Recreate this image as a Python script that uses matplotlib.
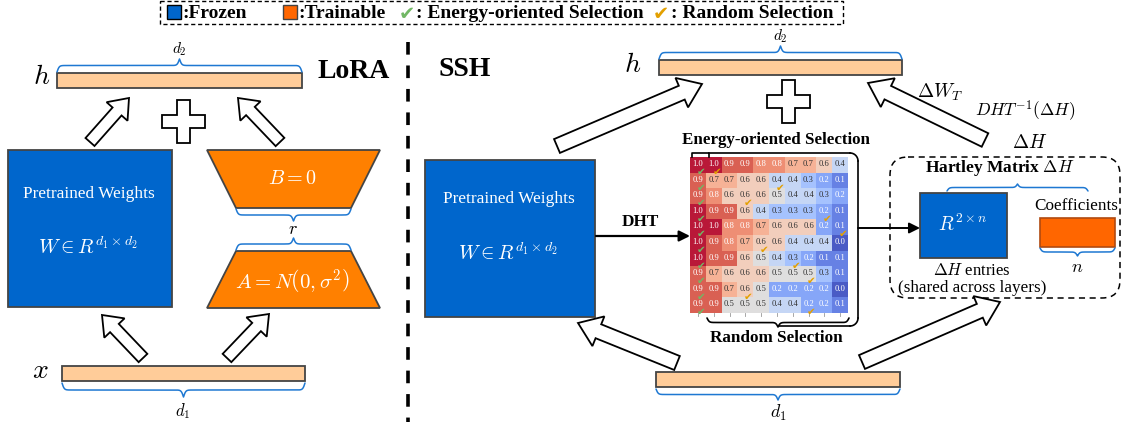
import numpy as np
import matplotlib
matplotlib.use("Agg")
from matplotlib import pyplot as plt
from matplotlib.patches import Rectangle, Polygon, FancyArrow, FancyBboxPatch

plt.rcParams["mathtext.fontset"] = "cm"
plt.rcParams["font.family"] = ["Liberation Serif", "DejaVu Sans"]

# =============================================================================
# Data

# energy values shown in the DHT matrix (10 x 10)
energy = [
    [1.0, 1.0, 0.9, 0.9, 0.8, 0.8, 0.7, 0.7, 0.6, 0.4],
    [0.9, 0.7, 0.7, 0.6, 0.6, 0.4, 0.4, 0.3, 0.2, 0.1],
    [0.9, 0.8, 0.6, 0.6, 0.6, 0.5, 0.4, 0.4, 0.3, 0.2],
    [1.0, 0.9, 0.9, 0.6, 0.4, 0.3, 0.3, 0.3, 0.2, 0.1],
    [1.0, 1.0, 0.8, 0.8, 0.7, 0.6, 0.6, 0.6, 0.2, 0.1],
    [1.0, 0.9, 0.8, 0.7, 0.6, 0.6, 0.4, 0.4, 0.4, 0.0],
    [1.0, 0.9, 0.9, 0.6, 0.5, 0.4, 0.3, 0.2, 0.1, 0.1],
    [0.9, 0.7, 0.6, 0.6, 0.6, 0.5, 0.5, 0.5, 0.3, 0.1],
    [0.9, 0.9, 0.7, 0.6, 0.5, 0.2, 0.2, 0.2, 0.2, 0.0],
    [0.9, 0.9, 0.5, 0.5, 0.5, 0.4, 0.4, 0.2, 0.2, 0.1],
]
# column picked in each row
energy_pick = [0, 0, 0, 0, 0, 0, 0, 0, 0, 0]
random_pick = [1, 5, 3, 8, 9, 4, 6, 7, 3, 7]

legend_labels = [":Frozen", ":Trainable", ": Energy-oriented Selection",
                 ": Random Selection"]

# =============================================================================
# Colours

BLUE = "#0066CC"
ORANGE = "#FF8000"
ORANGE2 = "#FF6600"
PEACH = "#FFCC99"
EDGE = "#444444"
BRACE = "#1E78D2"
GREEN_CHK = "#72B865"
ORANGE_CHK = "#E3A000"

fig = plt.figure(figsize=(11.21, 4.29), dpi=100)
ax = fig.add_axes([0, 0, 1, 1])


def hbrace(x0, x1, y, h, color=BRACE, lw=1.1, beta=0.9):
    # h > 0: tip goes down (y grows downward), h < 0: tip goes up
    half = (x1 - x0) / 2.0
    xs = np.linspace(0, half, 200)
    ys = (1 / (1 + np.exp(-beta * (xs - xs[0])))
          + 1 / (1 + np.exp(-beta * (xs - xs[-1]))))
    ys = np.concatenate((ys, ys[-2::-1])) - 0.5
    xx = np.concatenate((x0 + xs, x0 + half + xs[1:]))
    ax.plot(xx, y + ys * h, color=color, lw=lw, solid_capstyle="round")


def block_arrow(x0, y0, x1, y1, w=12, hw=28, hl=18):
    ax.add_patch(FancyArrow(x0, y0, x1 - x0, y1 - y0, width=w, head_width=hw,
                            head_length=hl, length_includes_head=True,
                            fc="white", ec="black", lw=1.3, zorder=3))


def plus(cx, cy, size=43, t=13):
    a, b = size / 2.0, t / 2.0
    pts = [(-b, -a), (b, -a), (b, -b), (a, -b), (a, b), (b, b), (b, a),
           (-b, a), (-b, b), (-a, b), (-a, -b), (-b, -b)]
    ax.add_patch(Polygon([(cx + px, cy + py) for px, py in pts], closed=True,
                         fc="white", ec="black", lw=1.3))


def bar(x0, x1, y0, y1, color=PEACH):
    ax.add_patch(Rectangle((x0, y0), x1 - x0, y1 - y0, fc=color, ec=EDGE,
                           lw=1.3))


# =============================================================================
# Legend strip

ax.add_patch(Rectangle((160, 1), 683, 23, fill=False, ec="black", lw=1.0,
                       ls=(0, (3, 2))))
ax.add_patch(Rectangle((167, 5), 14, 14, fc=BLUE, ec="black", lw=1.0))
ax.text(182, 13.5, legend_labels[0], fontsize=14, fontweight="bold",
        va="center", ha="left")
ax.add_patch(Rectangle((283, 5), 14, 14, fc=ORANGE2, ec=EDGE, lw=1.0))
ax.text(298, 13.5, legend_labels[1], fontsize=14, fontweight="bold",
        va="center", ha="left")
ax.text(407, 14, "\u2714", fontsize=14, color=GREEN_CHK, va="center",
        ha="center", family="DejaVu Sans")
ax.text(416, 13.5, legend_labels[2], fontsize=14, fontweight="bold",
        va="center", ha="left")
ax.text(661, 14, "\u2714", fontsize=14, color=ORANGE_CHK, va="center",
        ha="center", family="DejaVu Sans")
ax.text(671, 13.5, legend_labels[3], fontsize=14, fontweight="bold",
        va="center", ha="left")

# =============================================================================
# LoRA panel

ax.text(42, 77, "$h$", fontsize=20, ha="center", va="center")
bar(57, 302, 73, 88)
hbrace(57, 302, 72, -13)
ax.text(179, 49, "$d_2$", fontsize=11, ha="center", va="center")
ax.text(354, 72, "LoRA", fontsize=20, fontweight="bold", ha="center",
        va="center")

block_arrow(90, 142, 129, 98)
block_arrow(280, 142, 238, 98)
plus(183, 121)

ax.add_patch(Rectangle((8, 150), 164, 157, fc=BLUE, ec=EDGE, lw=1.3))
ax.text(89, 194, "Pretrained Weights", color="white", fontsize=12.4,
        ha="center", va="center")
ax.text(88, 248, r"$W \in R^{d_1 \times d_2}$", color="white", fontsize=14.5,
        ha="center", va="center")

ax.add_patch(Polygon([(207, 150), (380, 150), (351, 208), (236, 208)],
                     closed=True, fc=ORANGE, ec=EDGE, lw=1.3))
ax.text(293, 180, "$B = 0$", color="white", fontsize=14.5, ha="center",
        va="center")
hbrace(236, 351, 209, 12)
ax.text(293, 229, "$r$", fontsize=13, ha="center", va="center")
hbrace(236, 351, 250, -12)
ax.add_patch(Polygon([(236, 251), (351, 251), (380, 308), (207, 308)],
                     closed=True, fc=ORANGE, ec=EDGE, lw=1.3))
ax.text(292, 281, r"$A = N\left(0, \sigma^2\right)$", color="white",
        fontsize=15, ha="center", va="center")

block_arrow(143, 358, 102, 315)
block_arrow(227, 358, 269, 314)

ax.text(40, 372, "$x$", fontsize=20, ha="center", va="center")
bar(62, 305, 366, 381)
hbrace(62, 305, 383, 14)
ax.text(183, 411, "$d_1$", fontsize=12, ha="center", va="center")

# divider
ax.plot([408, 408], [42, 422], color="black", lw=2.6, ls=(0, (3.5, 3)))

# =============================================================================
# SSH panel

ax.text(465, 70, "SSH", fontsize=20, fontweight="bold", ha="center",
        va="center")
ax.text(633, 66, "$h$", fontsize=20, ha="center", va="center")
bar(659, 902, 60, 75)
hbrace(659, 902, 59, -13)
ax.text(780, 36, "$d_2$", fontsize=11, ha="center", va="center")
plus(788, 101)

block_arrow(557, 146, 702, 84, w=15, hw=32, hl=22)
block_arrow(985, 140, 868, 83, w=15, hw=32, hl=22)
ax.text(940, 92, r"$\Delta W_T$", fontsize=14, ha="center", va="center")
ax.text(1025, 111, r"$DHT^{-1}(\Delta H)$", fontsize=12.5, ha="center",
        va="center")
ax.text(1030, 143, r"$\Delta H$", fontsize=14, ha="center", va="center")

ax.add_patch(Rectangle((425, 160), 170, 157, fc=BLUE, ec=EDGE, lw=1.3))
ax.text(509, 199, "Pretrained Weights", color="white", fontsize=12.4,
        ha="center", va="center")
ax.text(508, 254, r"$W \in R^{d_1 \times d_2}$", color="white", fontsize=14.5,
        ha="center", va="center")

ax.annotate("", xy=(690, 236), xytext=(596, 236),
            arrowprops=dict(arrowstyle="-|>", color="black", lw=1.6,
                            mutation_scale=16, shrinkA=0, shrinkB=0))
ax.text(640, 222, "DHT", fontsize=12.4, fontweight="bold", ha="center",
        va="center")

# heatmap of energies
hm_x0, hm_x1, hm_y0, hm_y1 = 690, 848, 157, 313
vals = np.array(energy)
n_rows, n_cols = vals.shape
ax.imshow(vals, cmap="coolwarm", vmin=0, vmax=1, aspect="auto",
          extent=(hm_x0, hm_x1, hm_y1, hm_y0), interpolation="nearest",
          alpha=0.92, zorder=2)
cw = (hm_x1 - hm_x0) / n_cols
ch = (hm_y1 - hm_y0) / n_rows
for i in range(n_rows):
    for j in range(n_cols):
        v = vals[i, j]
        col = "white" if (v >= 0.8 or v <= 0.2) else "#333333"
        ax.text(hm_x0 + (j + 0.5) * cw, hm_y0 + (i + 0.45) * ch,
                "%.1f" % v, fontsize=6.2, color=col, ha="center",
                va="center", zorder=4)
    j = energy_pick[i]
    ax.text(hm_x0 + (j + 0.7) * cw, hm_y0 + (i + 0.95) * ch, "\u2714",
            fontsize=7.5, color=GREEN_CHK, ha="center", va="center",
            family="DejaVu Sans", zorder=5)
    j = random_pick[i]
    ax.text(hm_x0 + (j + 0.7) * cw, hm_y0 + (i + 0.95) * ch, "\u2714",
            fontsize=7.5, color=ORANGE_CHK, ha="center", va="center",
            family="DejaVu Sans", zorder=5)
for j in range(n_cols):
    xc = hm_x0 + (j + 0.5) * cw
    ax.plot([xc, xc], [hm_y1, hm_y1 + 3], color="#999999", lw=0.6)

ax.text(776, 140, "Energy-oriented Selection", fontsize=12.2,
        fontweight="bold", ha="center", va="center")
ax.text(776, 338, "Random Selection", fontsize=12.3, fontweight="bold",
        ha="center", va="center")

# selection bracket going to the Hartley box
ax.plot([692, 692, 709, 709], [157, 153, 153, 157], color="black", lw=1.2)
ax.plot([709, 850], [153, 153], color="black", lw=1.2)
t = np.linspace(0, np.pi / 2, 20)
ax.plot(850 + 8 * np.sin(t), 161 - 8 * np.cos(t), color="black", lw=1.2)
ax.plot([858, 858], [161, 318], color="black", lw=1.2)
ax.plot(850 + 8 * np.cos(t), 318 + 8 * np.sin(t), color="black", lw=1.2)
ax.plot([778, 850], [326, 326], color="black", lw=1.2)
hbrace(707, 849, 318, 9, color="black", lw=1.2)
ax.annotate("", xy=(920, 228), xytext=(858, 228),
            arrowprops=dict(arrowstyle="-|>", color="black", lw=1.4,
                            mutation_scale=16, shrinkA=0, shrinkB=0))

# Hartley matrix box
ax.add_patch(FancyBboxPatch((890, 157), 230, 141,
                            boxstyle="round,pad=0,rounding_size=18",
                            fill=False, ec="black", lw=1.1,
                            ls=(0, (4, 3))))
ax.text(1000, 168, r"Hartley Matrix $\Delta H$", fontsize=12.5,
        fontweight="bold", ha="center", va="center")
ax.add_patch(Rectangle((920, 193), 87, 65, fc=BLUE, ec=EDGE, lw=1.3))
ax.text(963, 224, r"$R^{2 \times n}$", color="white", fontsize=14,
        ha="center", va="center")
hbrace(947, 1088, 191, -7)
ax.text(1076, 206, "Coefficients", fontsize=12.3, ha="center", va="center")
ax.add_patch(Rectangle((1040, 218), 75, 29, fc=ORANGE2, ec="#B04A10",
                       lw=1.2))
hbrace(1040, 1115, 248, 8)
ax.text(1077, 268, "$n$", fontsize=13, ha="center", va="center")
ax.text(972, 271, r"$\Delta H$ entries", fontsize=12, ha="center",
        va="center")
ax.text(972, 288, "(shared across layers)", fontsize=12.3, ha="center",
        va="center")

# input bar and arrows
block_arrow(677, 363, 578, 323, w=15, hw=32, hl=22)
block_arrow(862, 362, 1000, 302, w=15, hw=32, hl=22)
bar(656, 900, 372, 387)
hbrace(656, 900, 389, 11)
ax.text(778, 413, "$d_1$", fontsize=13, ha="center", va="center")

ax.set_xlim(0, 1121)
ax.set_ylim(429, 0)
ax.axis("off")

fig.savefig("out.png", dpi=100)
